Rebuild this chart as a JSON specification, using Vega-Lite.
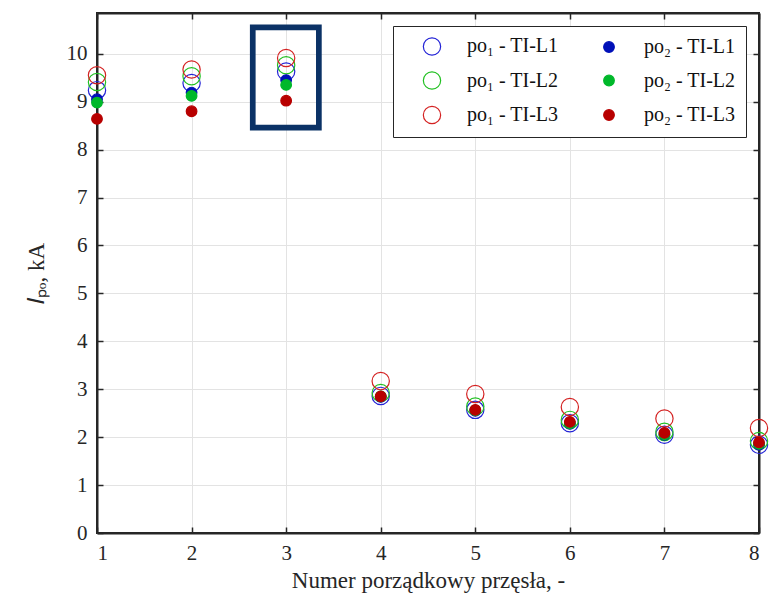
{
  "$schema": "https://vega.github.io/schema/vega-lite/v6.json",
  "width": 662,
  "height": 520,
  "autosize": {"type": "none"},
  "padding": {"left": 97, "top": 13, "right": 12, "bottom": 61},
  "background": "white",
  "config": {
    "view": {"stroke": "#262626", "strokeWidth": 2},
    "font": "Liberation Serif",
    "axis": {
      "labelFont": "Liberation Serif",
      "labelFontSize": 21,
      "labelColor": "#262626",
      "titleFont": "Liberation Serif",
      "titleFontSize": 23,
      "titleFontWeight": "normal",
      "titleColor": "#262626",
      "domainColor": "#262626",
      "domainWidth": 2,
      "tickColor": "#262626",
      "tickWidth": 1.5,
      "tickSize": -6,
      "gridColor": "#e3e3e3",
      "gridWidth": 1
    },
    "legend": {
      "labelFont": "Liberation Serif",
      "labelFontSize": 20,
      "labelColor": "#111111"
    }
  },
  "datasets": {
    "pts": [
      {"x": 1, "v": 9.24, "s": "po₁ - TI-L1", "o": 1},
      {"x": 2, "v": 9.39, "s": "po₁ - TI-L1", "o": 1},
      {"x": 3, "v": 9.63, "s": "po₁ - TI-L1", "o": 1},
      {"x": 4, "v": 2.86, "s": "po₁ - TI-L1", "o": 1},
      {"x": 5, "v": 2.57, "s": "po₁ - TI-L1", "o": 1},
      {"x": 6, "v": 2.29, "s": "po₁ - TI-L1", "o": 1},
      {"x": 7, "v": 2.05, "s": "po₁ - TI-L1", "o": 1},
      {"x": 8, "v": 1.84, "s": "po₁ - TI-L1", "o": 1},
      {"x": 1, "v": 9.41, "s": "po₁ - TI-L2", "o": 2},
      {"x": 2, "v": 9.53, "s": "po₁ - TI-L2", "o": 2},
      {"x": 3, "v": 9.76, "s": "po₁ - TI-L2", "o": 2},
      {"x": 4, "v": 2.92, "s": "po₁ - TI-L2", "o": 2},
      {"x": 5, "v": 2.64, "s": "po₁ - TI-L2", "o": 2},
      {"x": 6, "v": 2.36, "s": "po₁ - TI-L2", "o": 2},
      {"x": 7, "v": 2.11, "s": "po₁ - TI-L2", "o": 2},
      {"x": 8, "v": 1.92, "s": "po₁ - TI-L2", "o": 2},
      {"x": 1, "v": 9.55, "s": "po₁ - TI-L3", "o": 3},
      {"x": 2, "v": 9.67, "s": "po₁ - TI-L3", "o": 3},
      {"x": 3, "v": 9.91, "s": "po₁ - TI-L3", "o": 3},
      {"x": 4, "v": 3.17, "s": "po₁ - TI-L3", "o": 3},
      {"x": 5, "v": 2.90, "s": "po₁ - TI-L3", "o": 3},
      {"x": 6, "v": 2.63, "s": "po₁ - TI-L3", "o": 3},
      {"x": 7, "v": 2.39, "s": "po₁ - TI-L3", "o": 3},
      {"x": 8, "v": 2.19, "s": "po₁ - TI-L3", "o": 3},
      {"x": 1, "v": 9.05, "s": "po₂ - TI-L1", "o": 4},
      {"x": 2, "v": 9.19, "s": "po₂ - TI-L1", "o": 4},
      {"x": 3, "v": 9.45, "s": "po₂ - TI-L1", "o": 4},
      {"x": 4, "v": 2.84, "s": "po₂ - TI-L1", "o": 4},
      {"x": 5, "v": 2.55, "s": "po₂ - TI-L1", "o": 4},
      {"x": 6, "v": 2.28, "s": "po₂ - TI-L1", "o": 4},
      {"x": 7, "v": 2.05, "s": "po₂ - TI-L1", "o": 4},
      {"x": 8, "v": 1.84, "s": "po₂ - TI-L1", "o": 4},
      {"x": 1, "v": 8.98, "s": "po₂ - TI-L2", "o": 5},
      {"x": 2, "v": 9.12, "s": "po₂ - TI-L2", "o": 5},
      {"x": 3, "v": 9.35, "s": "po₂ - TI-L2", "o": 5},
      {"x": 4, "v": 2.85, "s": "po₂ - TI-L2", "o": 5},
      {"x": 5, "v": 2.56, "s": "po₂ - TI-L2", "o": 5},
      {"x": 6, "v": 2.29, "s": "po₂ - TI-L2", "o": 5},
      {"x": 7, "v": 2.06, "s": "po₂ - TI-L2", "o": 5},
      {"x": 8, "v": 1.86, "s": "po₂ - TI-L2", "o": 5},
      {"x": 1, "v": 8.64, "s": "po₂ - TI-L3", "o": 6},
      {"x": 2, "v": 8.80, "s": "po₂ - TI-L3", "o": 6},
      {"x": 3, "v": 9.02, "s": "po₂ - TI-L3", "o": 6},
      {"x": 4, "v": 2.85, "s": "po₂ - TI-L3", "o": 6},
      {"x": 5, "v": 2.57, "s": "po₂ - TI-L3", "o": 6},
      {"x": 6, "v": 2.32, "s": "po₂ - TI-L3", "o": 6},
      {"x": 7, "v": 2.09, "s": "po₂ - TI-L3", "o": 6},
      {"x": 8, "v": 1.89, "s": "po₂ - TI-L3", "o": 6}
    ],
    "box": [{"x1": 2.647, "x2": 3.346, "y1": 8.46, "y2": 10.55}]
  },
  "layer": [
    {
      "data": {"name": "pts"},
      "mark": {"type": "point", "shape": "circle", "opacity": 1, "strokeWidth": 1.2},
      "encoding": {
        "x": {
          "field": "x", "type": "quantitative",
          "scale": {"domain": [1, 8], "nice": false, "zero": false},
          "axis": {"orient": "bottom", "values": [1, 2, 3, 4, 5, 6, 7, 8], "format": "d", "title": "Numer porządkowy przęsła, -", "labelPadding": 15, "titlePadding": 6}
        },
        "y": {
          "field": "v", "type": "quantitative",
          "scale": {"domain": [0, 10.85], "nice": false},
          "axis": {"orient": "left", "values": [0, 1, 2, 3, 4, 5, 6, 7, 8, 9, 10], "format": "d", "title": "𝐼ₚₒ, kA", "labelPadding": 16, "titlePadding": 18}
        },
        "stroke": {
          "field": "s", "type": "nominal",
          "scale": {
            "type": "ordinal",
            "domain": ["po₁ - TI-L1", "po₁ - TI-L2", "po₁ - TI-L3", "po₂ - TI-L1", "po₂ - TI-L2", "po₂ - TI-L3"],
            "range": ["#2323d6", "#22c022", "#d42222", "#0010b8", "#00b82a", "#b80000"]
          },
          "legend": {"title": null, "orient": "top-right", "offset": 13, "columns": 2, "columnPadding": 21, "rowPadding": 10.5, "padding": 10, "symbolOffset": 19, "labelOffset": 25, "strokeColor": "#262626", "fillColor": "white", "symbolStrokeWidth": 1.2}
        },
        "fill": {
          "field": "s", "type": "nominal",
          "scale": {
            "type": "ordinal",
            "domain": ["po₁ - TI-L1", "po₁ - TI-L2", "po₁ - TI-L3", "po₂ - TI-L1", "po₂ - TI-L2", "po₂ - TI-L3"],
            "range": ["transparent", "transparent", "transparent", "#0010b8", "#00b82a", "#b80000"]
          },
          "legend": {"title": null, "orient": "top-right", "offset": 13, "columns": 2, "columnPadding": 21, "rowPadding": 10.5, "padding": 10, "symbolOffset": 19, "labelOffset": 25, "strokeColor": "#262626", "fillColor": "white", "symbolStrokeWidth": 1.2}
        },
        "size": {
          "field": "s", "type": "nominal",
          "scale": {
            "type": "ordinal",
            "domain": ["po₁ - TI-L1", "po₁ - TI-L2", "po₁ - TI-L3", "po₂ - TI-L1", "po₂ - TI-L2", "po₂ - TI-L3"],
            "range": [300, 300, 300, 113, 113, 113]
          },
          "legend": {"title": null, "orient": "top-right", "offset": 13, "columns": 2, "columnPadding": 21, "rowPadding": 10.5, "padding": 10, "symbolOffset": 19, "labelOffset": 25, "strokeColor": "#262626", "fillColor": "white", "symbolStrokeWidth": 1.2}
        },
        "order": {"field": "o", "type": "quantitative"}
      }
    },
    {
      "data": {"name": "box"},
      "mark": {"type": "rect", "filled": false, "stroke": "#0b3266", "strokeWidth": 5.7},
      "encoding": {
        "x": {"field": "x1", "type": "quantitative", "axis": {"orient": "top", "values": [1, 2, 3, 4, 5, 6, 7, 8], "labels": false, "grid": false, "title": null}},
        "x2": {"field": "x2"},
        "y": {"field": "y1", "type": "quantitative", "axis": {"orient": "right", "values": [0, 1, 2, 3, 4, 5, 6, 7, 8, 9, 10], "labels": false, "grid": false, "title": null}},
        "y2": {"field": "y2"}
      }
    }
  ],
  "resolve": {"axis": {"x": "independent", "y": "independent"}}
}
